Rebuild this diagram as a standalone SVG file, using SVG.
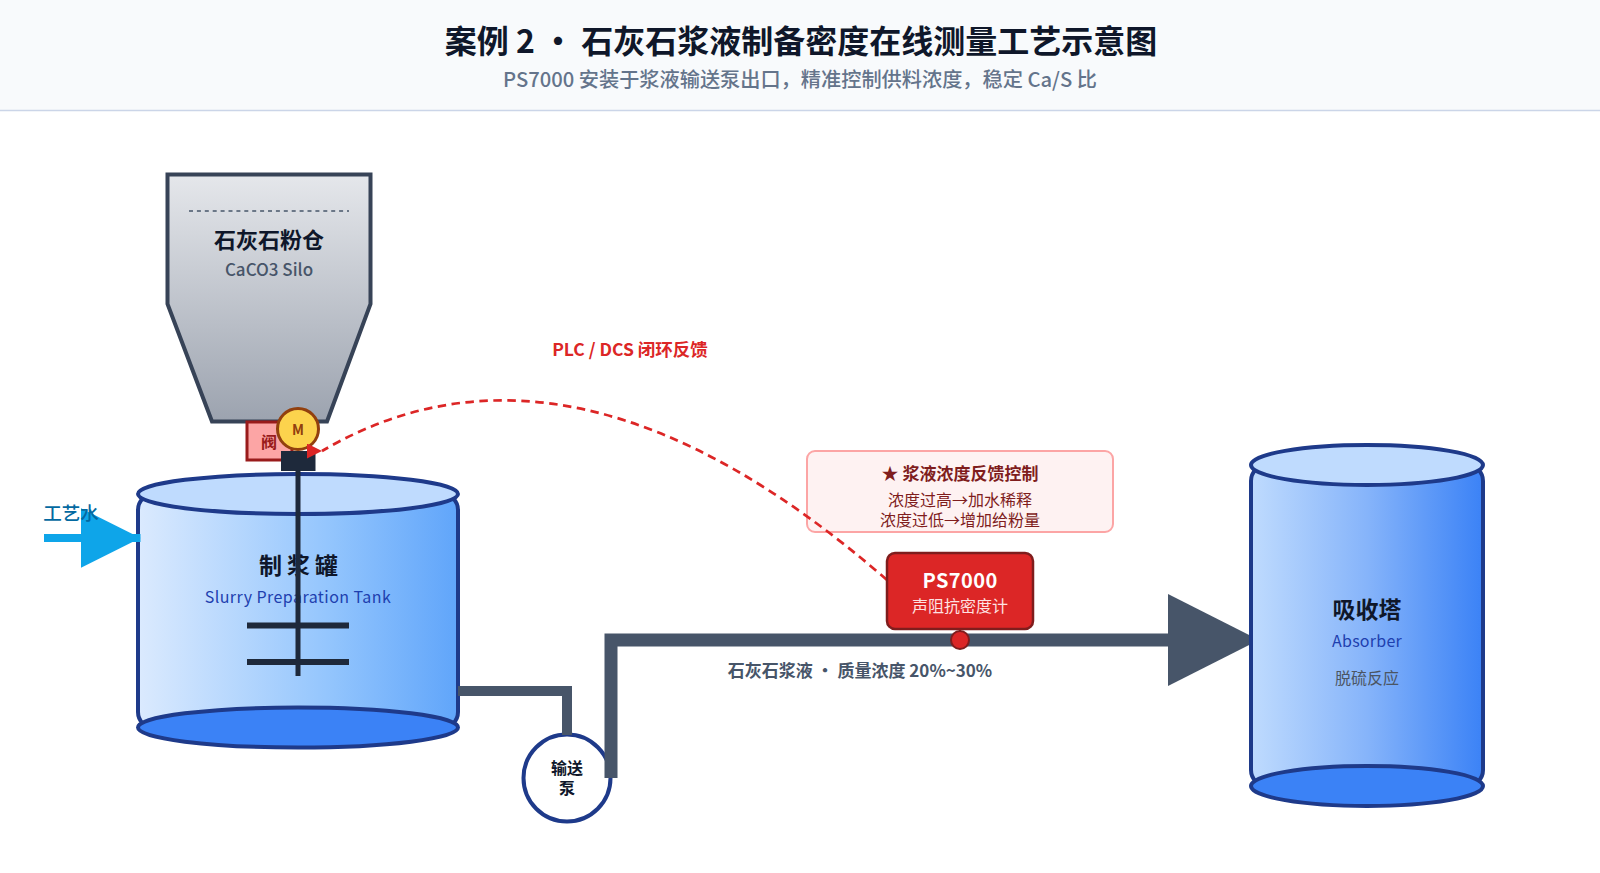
<svg xmlns="http://www.w3.org/2000/svg" width="1600" height="873" viewBox="0 0 1600 873">
<style>
text{font-family:"Noto Sans CJK SC","Noto Sans",sans-serif;text-anchor:middle;dominant-baseline:central}
.pipe{fill:none;stroke:#475569}
.vessel{stroke:#1e3a8a;stroke-width:4}
.lid{fill:#bfdbfe}
.base{fill:#3b82f6}
.shaft{stroke:#1e293b;stroke-width:5}
.blade{stroke:#1e293b;stroke-width:6}
</style>
<defs>
<linearGradient id="silo" x1="0" y1="0" x2="0" y2="1"><stop offset="0" stop-color="#e5e7eb"/><stop offset="1" stop-color="#9ca3af"/></linearGradient>
<linearGradient id="tank" x1="0" y1="0" x2="1" y2="0"><stop offset="0" stop-color="#dbeafe"/><stop offset="0.6" stop-color="#93c5fd"/><stop offset="1" stop-color="#60a5fa"/></linearGradient>
<linearGradient id="abs" x1="0" y1="0" x2="1" y2="0"><stop offset="0" stop-color="#bfdbfe"/><stop offset="0.5" stop-color="#86b4fa"/><stop offset="1" stop-color="#3b82f6"/></linearGradient>
<marker id="ah" viewBox="0 0 91 92" refX="22" refY="46" markerWidth="91" markerHeight="92" markerUnits="userSpaceOnUse" orient="auto"><path d="M0 0L91 46L0 92Z" fill="#475569"/></marker>
<marker id="ahw" viewBox="0 0 10 10" refX="10" refY="5" markerWidth="7.500" markerHeight="7.500" markerUnits="strokeWidth" orient="auto"><path d="M0 0L10 5L0 10Z" fill="#0ea5e9"/></marker>
<marker id="ahr" viewBox="0 0 10 10" refX="10" refY="5" markerWidth="16" markerHeight="15" markerUnits="userSpaceOnUse" orient="0"><path d="M0 0L10 5L0 10Z" fill="#dc2626"/></marker>
</defs>
<g id="header">
<rect width="1600" height="110" fill="#f8fafc"/>
<line x1="0" y1="110.500" x2="1600" y2="110.500" stroke="#cbd5e8" stroke-width="1.500"/>
<text x="801" y="38.500" font-size="32" font-weight="700" fill="#0f172a">案例 2 · 石灰石浆液制备密度在线测量工艺示意图</text>
<text x="800" y="78" font-size="20.200" font-weight="500" fill="#64748b">PS7000 安装于浆液输送泵出口，精准控制供料浓度，稳定 Ca/S 比</text>
</g>
<g id="silo-node">
<path d="M167.500 174.500H370.500V304L327 421.500H212L167.500 304Z" fill="url(#silo)" stroke="#374357" stroke-width="4"/>
<line x1="189" y1="211" x2="349" y2="211" stroke="#475569" stroke-width="1.500" stroke-dasharray="4 3.900"/>
<text x="269" y="237.500" font-size="22" font-weight="700" fill="#0f172a">石灰石粉仓</text>
<text x="269" y="268" font-size="17" font-weight="500" fill="#475569">CaCO3 Silo</text>
</g>
<g id="valve">
<rect x="247" y="422" width="45" height="38" fill="#fca5a5" stroke="#991b1b" stroke-width="3"/>
<text x="269" y="441" font-size="16" font-weight="700" fill="#991b1b">阀</text>
</g>
<g id="tank-node">
<rect x="138" y="494" width="320" height="234" rx="16" fill="url(#tank)" class="vessel"/>
<ellipse cx="298" cy="727.500" rx="160" ry="20" class="vessel base"/>
<ellipse cx="298" cy="494" rx="160" ry="20" class="vessel lid"/>
<text x="301" y="564" font-size="23" font-weight="700" fill="#0f172a" letter-spacing="5">制浆罐</text>
<text x="298" y="596" font-size="16" letter-spacing="0.450" fill="#1e40af">Slurry Preparation Tank</text>
</g>
<g id="agitator">
<rect x="281" y="451" width="34.500" height="20" fill="#1e293b"/>
<line x1="298" y1="471" x2="298" y2="676" class="shaft"/>
<line x1="247" y1="625.500" x2="349" y2="625.500" class="blade"/>
<line x1="247" y1="662" x2="349" y2="662" class="blade"/>
</g>
<g id="motor">
<circle cx="298" cy="429" r="20.500" fill="#fcd34d" stroke="#92400e" stroke-width="3"/>
<text x="298" y="429" font-size="14" font-weight="700" fill="#92400e">M</text>
</g>
<g id="callout">
<rect x="807" y="451" width="306" height="81" rx="8" fill="#fef2f2" stroke="#fca5a5" stroke-width="2"/>
<text x="960" y="472" font-size="17" font-weight="700" fill="#7f1d1d">★ 浆液浓度反馈控制</text>
<text x="960" y="499" font-size="16" fill="#7f1d1d">浓度过高→加水稀释</text>
<text x="960" y="519" font-size="16" fill="#7f1d1d">浓度过低→增加给粉量</text>
</g>
<g id="pump">
<circle cx="567" cy="778" r="43.500" fill="#fff" stroke="#1e3a8a" stroke-width="4"/>
<text x="567" y="767" font-size="16" font-weight="700" fill="#0f172a">输送</text>
<text x="567" y="787" font-size="16" font-weight="700" fill="#0f172a">泵</text>
</g>
<g id="connectors">
<path d="M458 691H567V735" class="pipe" stroke-width="10"/>
<path d="M611 778V640H1190" class="pipe" stroke-width="13" marker-end="url(#ah)"/>
<path d="M44 538H140.500" fill="none" stroke="#0ea5e9" stroke-width="8" marker-end="url(#ahw)"/>
<path d="M887 580Q571 305 322 451" fill="none" stroke="#dc2626" stroke-width="2.700" stroke-dasharray="8.500 5.500" marker-end="url(#ahr)"/>
</g>
<g id="absorber-node">
<rect x="1251" y="465" width="232" height="321" rx="16" fill="url(#abs)" class="vessel"/>
<ellipse cx="1367" cy="786" rx="116" ry="20" class="vessel base"/>
<ellipse cx="1367" cy="465" rx="116" ry="20" class="vessel lid"/>
<text x="1367" y="608" font-size="23" font-weight="700" fill="#0f172a">吸收塔</text>
<text x="1367" y="640" font-size="16" letter-spacing="0.250" fill="#1e40af">Absorber</text>
<text x="1367" y="677" font-size="16" fill="#4b5563">脱硫反应</text>
</g>
<g id="water-label"><text x="71" y="512" font-size="18.500" font-weight="500" fill="#0369a1">工艺水</text></g>
<g id="ps7000">
<line x1="960" y1="629" x2="960" y2="640" stroke="#7f1d1d" stroke-width="2"/>
<rect x="887" y="553" width="146" height="76" rx="8" fill="#dc2626" stroke="#7f1d1d" stroke-width="2.500"/>
<text x="960" y="579" font-size="20" font-weight="700" letter-spacing="0.400" fill="#fff">PS7000</text>
<text x="960" y="605" font-size="16" fill="#fee2e2">声阻抗密度计</text>
<circle cx="960" cy="640" r="9" fill="#dc2626" stroke="#7f1d1d" stroke-width="2"/>
</g>
<g id="labels">
<text x="630" y="348" font-size="17.500" font-weight="700" fill="#dc2626">PLC / DCS 闭环反馈</text>
<text x="860" y="669" font-size="17" font-weight="700" fill="#475569">石灰石浆液 · 质量浓度 20%~30%</text>
</g>
</svg>
